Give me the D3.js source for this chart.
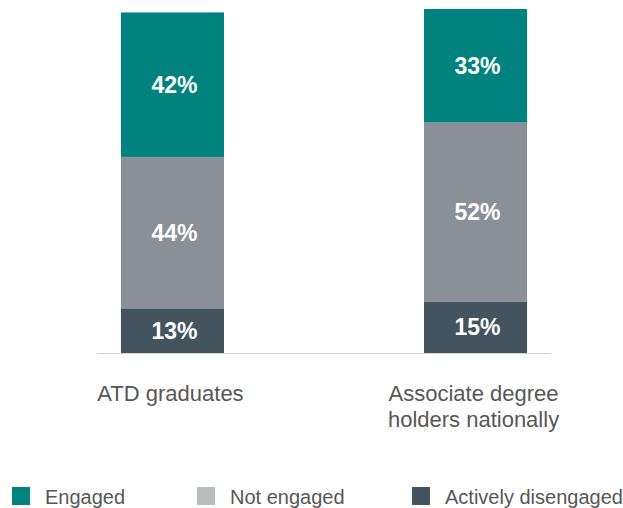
<!DOCTYPE html>
<html>
<head>
<meta charset="utf-8">
<script src="https://cdn.jsdelivr.net/npm/d3@7"></script>
<style>
  html, body { margin: 0; padding: 0; background: #fff; }
  svg { display: block; font-family: "Liberation Sans", Arial, Helvetica, sans-serif; }
</style>
</head>
<body>
<svg id="chart" width="623" height="508"></svg>
<script>
// Survey groups (x categories), each label split into lines
const groups = ["ATD graduates", "Associate degree holders nationally"];
const groupLines = [["ATD graduates"], ["Associate degree", "holders nationally"]];

// Engagement shares in percent, stacked from the baseline upward
const series = ["Actively disengaged", "Not engaged", "Engaged"];
const activelyDisengaged = [13, 15];
const notEngaged = [44, 52];
const engaged = [42, 33];

// Legend order
const legendItems = ["Engaged", "Not engaged", "Actively disengaged"];

const barColor = {
  "Engaged": "#00827e",
  "Not engaged": "#8a9097",
  "Actively disengaged": "#43545f"
};
const legendColor = {
  "Engaged": "#00827e",
  "Not engaged": "#b9bdc0",
  "Actively disengaged": "#43545f"
};

const rows = groups.map((g, i) => ({
  group: g,
  "Actively disengaged": activelyDisengaged[i],
  "Not engaged": notEngaged[i],
  "Engaged": engaged[i]
}));

const svg = d3.select("#chart");

const x = d3.scaleBand()
  .domain(groups)
  .range([97, 551])
  .paddingInner(0.66)
  .paddingOuter(0.079);

const y = d3.scaleLinear()
  .domain([0, 100])
  .range([353, 9]);

const stacked = d3.stack().keys(series)(rows);

// Stacked segments
const layers = svg.append("g").selectAll("g")
  .data(stacked)
  .join("g")
  .attr("fill", d => barColor[d.key]);

layers.selectAll("rect")
  .data(d => d.map(p => ({ p, key: d.key })))
  .join("rect")
  .attr("x", d => x(d.p.data.group))
  .attr("width", x.bandwidth())
  .attr("y", d => y(d.p[1]))
  .attr("height", d => y(d.p[0]) - y(d.p[1]));

// Value labels in the middle of each segment
layers.selectAll("text")
  .data(d => d.map(p => ({ p, key: d.key })))
  .join("text")
  .attr("x", d => x(d.p.data.group) + x.bandwidth() / 2 + 2)
  .attr("y", d => (y(d.p[0]) + y(d.p[1])) / 2)
  .attr("dy", "0.36em")
  .attr("text-anchor", "middle")
  .attr("fill", "#fff")
  .attr("font-weight", "bold")
  .attr("font-size", 23)
  .text(d => d.p.data[d.key] + "%");

// Baseline
svg.append("line")
  .attr("x1", x.range()[0])
  .attr("x2", x.range()[1])
  .attr("y1", y(0) + 0.5)
  .attr("y2", y(0) + 0.5)
  .attr("stroke", "#d4d4d4")
  .attr("stroke-width", 1);

// Category labels
const cat = svg.append("g").selectAll("text")
  .data(groups)
  .join("text")
  .attr("x", d => x(d) + x.bandwidth() / 2 - 2)
  .attr("y", 401)
  .attr("text-anchor", "middle")
  .attr("font-size", 22)
  .attr("fill", "#575757");

cat.selectAll("tspan")
  .data((d, i) => groupLines[i])
  .join("tspan")
  .attr("x", function () { return d3.select(this.parentNode).attr("x"); })
  .attr("dy", (d, i) => i === 0 ? 0 : 26)
  .text(d => d);

// Legend
const legendX = [12, 197, 412];
const legend = svg.append("g").selectAll("g")
  .data(legendItems)
  .join("g")
  .attr("transform", (d, i) => `translate(${legendX[i]},487)`);

legend.append("rect")
  .attr("width", 18)
  .attr("height", 18)
  .attr("fill", d => legendColor[d]);

legend.append("text")
  .attr("x", 33)
  .attr("y", 17)
  .attr("font-size", 20)
  .attr("fill", "#575757")
  .text(d => d);
</script>
</body>
</html>
